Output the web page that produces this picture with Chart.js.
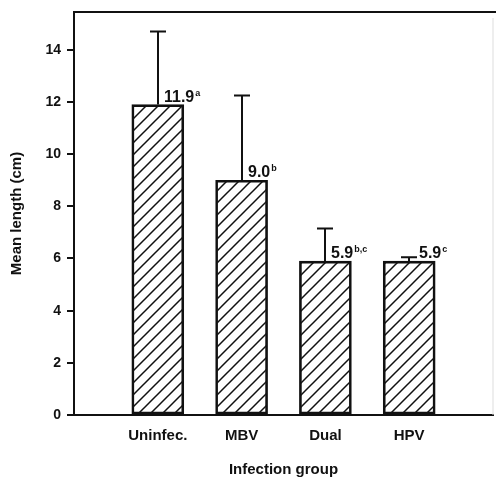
<!DOCTYPE html>
<html>
<head>
<meta charset="utf-8">
<script src="https://cdn.jsdelivr.net/npm/chart.js@4"></script>
<style>
  html, body { margin: 0; padding: 0; background: #fff; }
  #wrap { width: 496px; height: 479px; position: relative; }
</style>
</head>
<body>
<div id="wrap"><canvas id="chart"></canvas></div>
<script>
// data
const groups = ['Uninfec.', 'MBV', 'Dual', 'HPV'];
const meanLength = [11.9, 9.0, 5.9, 5.9];
const errorTop = [14.7, 12.25, 7.15, 6.05];
const valueLabels = ['11.9', '9.0', '5.9', '5.9'];
const superscripts = ['a', 'b', 'b,c', 'c'];
const yTicks = [0, 2, 4, 6, 8, 10, 12, 14];

const ink = '#111';
const fontFam = '"Liberation Sans", Arial, Helvetica, sans-serif';

// diagonal hatch fill
function makeHatch(){
  const c = document.createElement('canvas');
  const s = 12;
  c.width = s; c.height = s;
  const g = c.getContext('2d');
  g.strokeStyle = ink;
  g.lineWidth = 1.5;
  g.beginPath();
  g.moveTo(0, s); g.lineTo(s, 0);
  g.moveTo(-2, 2); g.lineTo(2, -2);
  g.moveTo(s - 2, s + 2); g.lineTo(s + 2, s - 2);
  g.stroke();
  return g.createPattern(c, 'repeat');
}

// pad categories so the bars sit where the figure has them
const labels = [''].concat(groups, ['']);
const barData = [null].concat(meanLength, [null]);

const annotate = {
  id: 'annotate',
  afterDatasetsDraw(chart){
    const ctx = chart.ctx;
    const xs = chart.scales.x, ys = chart.scales.y;
    ctx.save();
    ctx.strokeStyle = ink;
    ctx.fillStyle = ink;
    ctx.lineWidth = 2;
    groups.forEach((g, i) => {
      const x = Math.round(xs.getPixelForValue(i + 1));
      const yBar = ys.getPixelForValue(meanLength[i]);
      const yErr = ys.getPixelForValue(errorTop[i]);
      ctx.beginPath();
      ctx.moveTo(x, yBar);
      ctx.lineTo(x, yErr);
      ctx.moveTo(x - 8, yErr);
      ctx.lineTo(x + 8, yErr);
      ctx.stroke();
      // value + superscript
      const tx = x + (i === 3 ? 10 : 6);
      const ty = yBar - 3;
      ctx.textAlign = 'left';
      ctx.textBaseline = 'alphabetic';
      ctx.font = 'bold 16px ' + fontFam;
      ctx.fillText(valueLabels[i], tx, ty);
      const w = ctx.measureText(valueLabels[i]).width;
      ctx.font = 'bold 9px ' + fontFam;
      ctx.fillText(superscripts[i], tx + w + 1, ty - 6);
    });
    // top frame line and faint right edge
    const a = chart.chartArea;
    ctx.strokeStyle = ink;
    ctx.lineWidth = 2;
    ctx.beginPath();
    ctx.moveTo(a.left - 1, a.top);
    ctx.lineTo(a.right + 3, a.top);
    ctx.stroke();
    ctx.strokeStyle = '#ddd';
    ctx.lineWidth = 1;
    ctx.beginPath();
    ctx.moveTo(a.right, a.top + 6);
    ctx.lineTo(a.right, a.bottom);
    ctx.stroke();
    ctx.restore();
  }
};

new Chart(document.getElementById('chart'), {
  type: 'bar',
  data: {
    labels,
    datasets: [{
      data: barData,
      backgroundColor: makeHatch(),
      borderColor: ink,
      borderWidth: 2,
      borderSkipped: false,
      barThickness: 52
    }]
  },
  options: {
    responsive: true,
    maintainAspectRatio: false,
    animation: false,
    layout: { padding: { top: 12, right: 3, left: 0, bottom: 0 } },
    plugins: { legend: { display: false }, tooltip: { enabled: false } },
    scales: {
      x: {
        offset: false,
        grid: { drawOnChartArea: false, drawTicks: false },
        border: { color: ink, width: 2 },
        ticks: { color: ink, padding: 12, font: { family: fontFam, size: 15, weight: 'bold' } },
        title: { display: true, text: 'Infection group', color: ink, padding: { top: 0, bottom: 0 },
                 font: { family: fontFam, size: 15, weight: 'bold' } },
        afterFit(s){ s.height = 64; s.paddingLeft = 0; s.paddingRight = 0; }
      },
      y: {
        min: 0,
        max: 15.45,
        grid: { drawOnChartArea: false, color: ink, tickLength: 7, lineWidth: 2 },
        border: { color: ink, width: 2 },
        afterBuildTicks(s){ s.ticks = yTicks.map(v => ({ value: v })); },
        ticks: { color: ink, padding: 6, font: { family: fontFam, size: 14, weight: 'bold' } },
        title: { display: true, text: 'Mean length (cm)', color: ink, padding: { top: 8, bottom: 0 },
                 font: { family: fontFam, size: 15, weight: 'bold' } },
        afterFit(s){ s.width = 74; s.paddingTop = 0; s.paddingBottom = 0; }
      }
    }
  },
  plugins: [annotate]
});
</script>
</body>
</html>
